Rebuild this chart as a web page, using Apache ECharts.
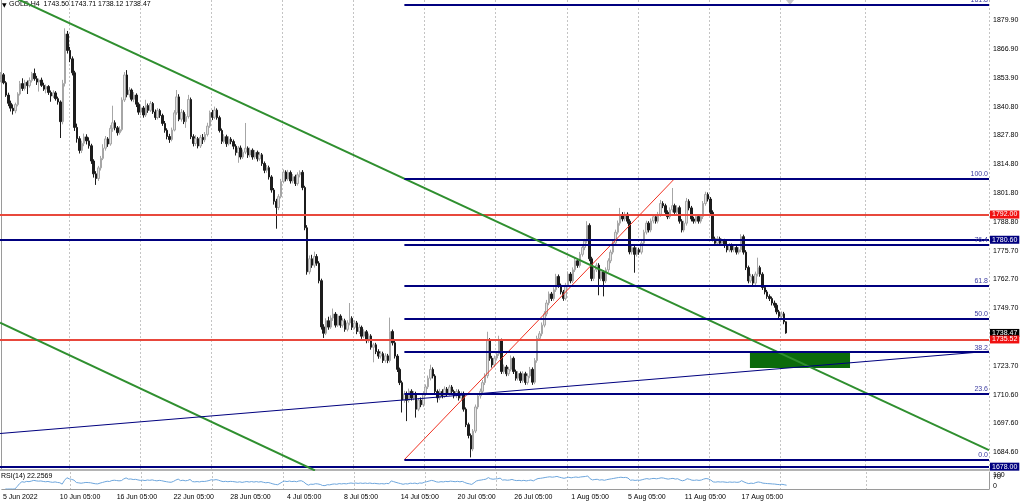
<!DOCTYPE html>
<html>
<head>
<meta charset="utf-8">
<script src="https://cdn.jsdelivr.net/npm/echarts@6/dist/echarts.min.js"></script>
<style>
  html, body { margin: 0; padding: 0; background: #fff; }
  #chart { width: 1024px; height: 501px; }
</style>
</head>
<body>
<div id="chart"></div>
<script>
// GOLD H4 candles, [open, close, low, high]
const candles = [
  [1853.0,1855.2,1851.8,1856.4],[1855.2,1851.6,1850.9,1856.0],[1851.6,1846.0,1845.2,1852.3],[1846.0,1842.3,1841.0,1847.1],
  [1842.3,1840.1,1838.6,1843.5],[1840.1,1838.9,1837.2,1841.8],[1838.9,1841.7,1837.8,1842.6],[1841.7,1846.5,1840.9,1847.3],
  [1846.5,1851.2,1845.8,1852.4],[1851.2,1849.0,1847.9,1853.6],[1849.0,1851.8,1848.1,1852.9],[1851.8,1850.3,1846.5,1852.6],
  [1850.3,1852.6,1849.4,1854.0],[1852.6,1855.8,1851.7,1856.5],[1855.8,1853.4,1852.5,1858.0],[1853.4,1851.9,1850.6,1854.7],
  [1851.9,1852.8,1847.6,1853.5],[1852.8,1850.4,1849.7,1853.9],[1850.4,1848.7,1847.9,1851.6],[1848.7,1849.9,1846.8,1850.8],
  [1849.9,1847.2,1846.1,1850.5],[1847.2,1845.6,1843.0,1848.1],[1845.6,1847.0,1844.7,1848.2],[1847.0,1844.4,1843.5,1847.8],
  [1844.4,1842.9,1841.7,1845.3],[1842.9,1834.0,1826.6,1843.6],[1834.0,1851.3,1832.8,1852.9],[1851.3,1873.6,1849.9,1876.2],
  [1873.6,1866.2,1864.8,1875.0],[1866.2,1862.4,1860.9,1867.8],[1862.4,1856.1,1854.9,1863.5],[1856.1,1831.4,1829.8,1857.0],
  [1831.4,1826.3,1824.5,1833.1],[1826.3,1821.0,1819.6,1827.4],[1821.0,1824.2,1819.8,1825.4],[1824.2,1827.1,1822.9,1828.6],
  [1827.1,1825.3,1823.7,1828.3],[1825.3,1823.1,1821.8,1826.9],[1823.1,1816.2,1814.9,1824.0],[1816.2,1810.4,1808.7,1817.0],
  [1810.4,1808.3,1805.4,1811.6],[1808.3,1813.1,1807.2,1814.0],[1813.1,1817.4,1811.9,1818.5],[1817.4,1822.0,1816.6,1823.8],
  [1822.0,1826.2,1820.9,1827.5],[1826.2,1823.9,1822.6,1827.0],[1823.9,1831.0,1823.1,1832.4],[1831.0,1833.5,1829.4,1841.2],
  [1833.5,1831.2,1830.1,1834.6],[1831.2,1829.0,1827.7,1832.0],[1829.0,1830.4,1828.1,1831.9],[1830.4,1843.8,1829.6,1845.0],
  [1843.8,1855.1,1842.9,1856.4],[1855.1,1846.2,1845.0,1857.3],[1846.2,1848.3,1844.9,1849.6],[1848.3,1844.1,1843.2,1849.0],
  [1844.1,1846.0,1842.8,1847.4],[1846.0,1841.9,1840.6,1846.8],[1841.9,1838.3,1837.1,1842.7],[1838.3,1840.2,1836.9,1841.5],
  [1840.2,1837.0,1835.8,1841.1],[1837.0,1841.3,1836.1,1843.9],[1841.3,1839.1,1838.0,1842.2],[1839.1,1842.2,1838.4,1843.3],
  [1842.2,1838.4,1837.5,1842.9],[1838.4,1835.9,1834.8,1839.5],[1835.9,1839.0,1835.0,1840.1],[1839.0,1836.8,1835.7,1839.8],
  [1836.8,1833.2,1832.1,1837.6],[1833.2,1830.1,1829.0,1834.3],[1830.1,1827.3,1826.0,1831.0],[1827.3,1825.9,1824.4,1828.5],
  [1825.9,1830.2,1825.1,1831.3],[1830.2,1838.0,1829.6,1839.2],[1838.0,1845.2,1837.1,1848.3],[1845.2,1835.1,1834.2,1846.4],
  [1835.1,1838.2,1834.0,1839.7],[1838.2,1834.0,1832.9,1839.1],[1834.0,1836.3,1831.2,1837.5],[1836.3,1844.0,1835.4,1846.1],
  [1844.0,1827.2,1826.1,1844.9],[1827.2,1824.1,1822.8,1828.3],[1824.1,1826.3,1823.0,1827.9],[1826.3,1823.0,1821.9,1827.1],
  [1823.0,1826.9,1822.1,1828.0],[1826.9,1825.8,1823.9,1828.4],[1825.8,1828.2,1824.7,1829.3],[1828.2,1832.0,1827.3,1833.5],
  [1832.0,1838.1,1831.2,1839.0],[1838.1,1836.0,1834.7,1839.3],[1836.0,1839.2,1835.1,1840.8],[1839.2,1835.8,1834.9,1840.0],
  [1835.8,1830.0,1829.1,1836.7],[1830.0,1825.1,1823.9,1830.9],[1825.1,1827.2,1824.2,1828.3],[1827.2,1824.0,1822.6,1828.1],
  [1824.0,1826.1,1823.2,1827.4],[1826.1,1825.0,1823.8,1827.0],[1825.0,1822.9,1821.5,1825.9],[1822.9,1820.0,1818.7,1823.8],
  [1820.0,1822.1,1815.4,1823.0],[1822.1,1818.0,1816.9,1823.2],[1818.0,1820.2,1817.1,1821.4],[1820.2,1822.0,1819.3,1833.4],
  [1822.0,1818.9,1817.6,1822.8],[1818.9,1821.1,1817.9,1822.3],[1821.1,1818.0,1816.8,1821.9],[1818.0,1820.1,1817.0,1821.2],
  [1820.1,1817.2,1816.0,1820.9],[1817.2,1819.0,1816.3,1820.3],[1819.0,1815.1,1814.0,1819.8],[1815.1,1812.0,1810.7,1816.0],
  [1812.0,1813.2,1810.9,1814.4],[1813.2,1809.0,1807.8,1814.1],[1809.0,1803.1,1801.9,1809.8],[1803.1,1798.0,1796.5,1804.0],
  [1798.0,1795.2,1785.6,1799.1],[1795.2,1800.1,1794.0,1801.2],[1800.1,1807.0,1799.3,1808.1],[1807.0,1811.2,1806.1,1812.4],
  [1811.2,1808.1,1807.0,1812.0],[1808.1,1811.0,1807.2,1812.2],[1811.0,1807.2,1806.0,1811.9],[1807.2,1809.1,1806.1,1810.3],
  [1809.1,1806.0,1804.9,1810.0],[1806.0,1810.0,1805.1,1811.1],[1810.0,1811.1,1808.8,1812.0],[1811.1,1804.2,1803.0,1812.1],
  [1804.2,1786.0,1784.9,1805.0],[1786.0,1766.1,1764.8,1787.2],[1766.1,1772.0,1765.0,1773.5],[1772.0,1769.1,1767.9,1773.8],
  [1769.1,1773.0,1768.0,1775.2],[1773.0,1770.0,1768.8,1774.1],[1770.0,1762.1,1760.9,1770.9],[1762.1,1741.2,1740.0,1763.0],
  [1741.2,1738.3,1736.2,1742.4],[1738.3,1744.0,1737.5,1745.1],[1744.0,1741.1,1739.9,1745.8],[1741.1,1745.2,1740.3,1746.4],
  [1745.2,1747.0,1743.9,1749.5],[1747.0,1742.0,1740.9,1747.9],[1742.0,1746.1,1741.2,1747.0],[1746.1,1742.0,1740.8,1746.9],
  [1742.0,1744.0,1740.9,1745.1],[1744.0,1740.1,1739.0,1744.9],[1740.1,1743.0,1739.2,1744.2],[1743.0,1745.1,1741.9,1752.0],
  [1745.1,1741.0,1739.8,1746.0],[1741.0,1743.0,1740.1,1744.2],[1743.0,1739.1,1737.9,1743.9],[1739.1,1741.0,1738.0,1742.3],
  [1741.0,1737.0,1735.8,1741.8],[1737.0,1739.0,1736.1,1740.1],[1739.0,1735.0,1733.8,1739.8],[1735.0,1737.1,1734.0,1738.2],
  [1737.1,1732.0,1730.9,1737.9],[1732.0,1733.1,1725.2,1734.0],[1733.1,1730.0,1728.9,1734.0],[1730.0,1728.0,1726.8,1731.1],
  [1728.0,1729.1,1726.9,1730.2],[1729.1,1726.0,1724.9,1730.0],[1726.0,1728.1,1725.0,1729.3],[1728.1,1726.0,1724.8,1729.0],
  [1726.0,1739.1,1725.1,1745.4],[1739.1,1734.0,1732.8,1740.0],[1734.0,1728.0,1726.9,1735.1],[1728.0,1722.0,1720.8,1728.9],
  [1722.0,1716.0,1714.9,1722.8],[1716.0,1708.1,1702.5,1716.9],[1708.1,1711.0,1706.9,1712.3],[1711.0,1708.0,1698.6,1712.0],
  [1708.0,1712.1,1707.0,1713.3],[1712.1,1709.0,1707.9,1713.0],[1709.0,1711.0,1708.0,1712.2],[1711.0,1704.0,1700.2,1711.9],
  [1704.0,1708.1,1703.1,1709.0],[1708.1,1706.0,1704.9,1709.3],[1706.0,1711.0,1705.1,1712.1],[1711.0,1714.1,1710.0,1715.2],
  [1714.1,1718.0,1713.1,1719.2],[1718.0,1722.0,1717.0,1724.1],[1722.0,1719.0,1717.9,1722.9],[1719.0,1712.0,1710.9,1719.8],
  [1712.0,1709.1,1707.0,1712.9],[1709.1,1712.0,1708.1,1713.2],[1712.0,1710.0,1708.9,1713.0],[1710.0,1713.1,1709.1,1714.3],
  [1713.1,1711.0,1709.9,1714.0],[1711.0,1714.0,1710.1,1715.0],[1714.0,1712.0,1710.8,1714.9],[1712.0,1710.1,1708.9,1712.8],
  [1710.1,1712.0,1709.0,1713.1],[1712.0,1709.0,1707.9,1712.9],[1709.0,1711.1,1708.1,1712.0],[1711.1,1704.0,1702.9,1712.0],
  [1704.0,1697.0,1695.9,1704.8],[1697.0,1692.1,1690.8,1697.9],[1692.1,1686.0,1682.2,1693.0],[1686.0,1694.1,1685.0,1695.0],
  [1694.1,1705.0,1693.2,1706.1],[1705.0,1710.0,1704.0,1711.1],[1710.0,1712.1,1708.8,1713.3],[1712.1,1716.0,1711.0,1717.2],
  [1716.0,1719.1,1714.9,1720.2],[1719.1,1735.0,1718.0,1739.0],[1735.0,1727.0,1725.9,1736.1],[1727.0,1724.0,1722.8,1728.1],
  [1724.0,1727.1,1723.0,1728.2],[1727.1,1729.0,1726.0,1730.1],[1729.0,1735.0,1728.1,1737.2],[1735.0,1721.0,1719.9,1735.9],
  [1721.0,1723.1,1720.0,1724.2],[1723.1,1720.0,1718.9,1724.0],[1720.0,1722.0,1719.0,1723.1],[1722.0,1727.0,1721.1,1728.3],
  [1727.0,1721.0,1719.9,1727.8],[1721.0,1718.0,1716.9,1721.9],[1718.0,1720.1,1717.0,1721.2],[1720.1,1717.0,1715.8,1721.0],
  [1717.0,1720.0,1716.0,1721.1],[1720.0,1716.1,1715.0,1720.9],[1716.1,1719.0,1715.1,1720.2],[1719.0,1722.0,1718.0,1723.1],
  [1722.0,1716.2,1715.0,1722.9],[1716.2,1726.0,1715.3,1727.1],[1726.0,1736.0,1725.0,1737.2],[1736.0,1738.1,1734.9,1739.3],
  [1738.1,1742.0,1737.0,1743.2],[1742.0,1747.1,1741.0,1748.3],[1747.1,1752.0,1746.0,1753.4],[1752.0,1756.1,1751.0,1757.2],
  [1756.1,1754.0,1752.9,1757.0],[1754.0,1758.0,1753.0,1759.1],[1758.0,1764.0,1757.0,1765.2],[1764.0,1760.0,1758.9,1764.9],
  [1760.0,1757.0,1755.9,1760.8],[1757.0,1754.1,1753.0,1757.9],[1754.1,1760.0,1753.2,1761.1],[1760.0,1765.1,1759.0,1766.3],
  [1765.1,1762.0,1760.9,1766.0],[1762.0,1767.0,1761.0,1768.1],[1767.0,1771.1,1766.0,1772.3],[1771.1,1769.0,1767.9,1772.0],
  [1769.0,1774.0,1768.0,1775.1],[1774.0,1777.1,1773.0,1778.2],[1777.1,1780.0,1775.9,1781.0],[1780.0,1787.1,1779.0,1789.0],
  [1787.1,1772.0,1770.9,1788.0],[1772.0,1763.1,1761.9,1772.9],[1763.1,1767.0,1762.0,1768.2],[1767.0,1769.1,1766.0,1770.2],
  [1769.1,1763.0,1755.5,1770.0],[1763.0,1766.1,1762.0,1767.2],[1766.1,1762.0,1755.0,1766.9],[1762.0,1767.0,1761.0,1768.1],
  [1767.0,1771.1,1766.0,1772.2],[1771.1,1775.0,1770.0,1776.1],[1775.0,1779.1,1774.0,1780.2],[1779.1,1784.0,1778.0,1785.2],
  [1784.0,1788.1,1783.0,1789.3],[1788.1,1792.0,1787.0,1795.0],[1792.0,1790.0,1788.9,1793.1],[1790.0,1792.1,1789.0,1793.2],
  [1792.1,1789.0,1787.9,1793.0],[1789.0,1775.1,1774.0,1789.9],[1775.1,1777.0,1773.9,1778.2],[1777.0,1774.0,1765.7,1777.9],
  [1774.0,1776.1,1773.0,1777.2],[1776.1,1775.0,1773.8,1777.0],[1775.0,1779.1,1774.0,1780.2],[1779.1,1784.0,1778.0,1785.1],
  [1784.0,1788.1,1783.0,1789.2],[1788.1,1785.0,1783.9,1789.0],[1785.0,1789.1,1784.0,1790.2],[1789.1,1791.0,1788.0,1792.1],
  [1791.0,1789.0,1787.9,1791.9],[1789.0,1792.1,1788.0,1793.2],[1792.1,1797.0,1791.0,1798.6],[1797.0,1796.0,1794.9,1798.0],
  [1796.0,1793.0,1791.9,1796.9],[1793.0,1791.0,1789.9,1793.9],[1791.0,1794.1,1790.0,1795.2],[1794.1,1796.0,1793.0,1804.0],
  [1796.0,1793.0,1791.9,1796.9],[1793.0,1795.1,1792.0,1796.2],[1795.1,1789.0,1787.9,1796.0],[1789.0,1785.0,1783.9,1789.9],
  [1785.0,1788.1,1784.0,1789.2],[1788.1,1798.0,1787.0,1799.5],[1798.0,1795.0,1793.9,1798.9],[1795.0,1790.0,1788.9,1795.9],
  [1790.0,1789.0,1787.9,1791.0],[1789.0,1791.1,1788.0,1792.2],[1791.1,1789.0,1787.9,1792.0],[1789.0,1791.1,1788.0,1792.2],
  [1791.1,1797.0,1790.0,1798.1],[1797.0,1801.1,1796.0,1802.3],[1801.1,1799.0,1797.9,1802.0],[1799.0,1793.0,1791.9,1799.9],
  [1793.0,1781.0,1779.9,1793.9],[1781.0,1779.0,1777.9,1782.0],[1779.0,1781.1,1778.0,1782.2],[1781.1,1779.0,1777.9,1782.0],
  [1779.0,1780.1,1778.0,1781.2],[1780.1,1778.0,1776.9,1781.0],[1778.0,1776.0,1774.9,1780.5],[1776.0,1778.0,1775.0,1779.1],
  [1778.0,1776.0,1774.9,1778.9],[1776.0,1777.1,1775.0,1778.2],[1777.1,1775.0,1773.9,1778.0],[1775.0,1776.1,1774.0,1777.2],
  [1776.1,1782.0,1775.0,1783.1],[1782.0,1775.0,1773.9,1782.9],[1775.0,1768.0,1766.9,1775.9],[1768.0,1762.0,1760.9,1768.9],
  [1762.0,1764.1,1761.0,1765.2],[1764.1,1761.0,1759.9,1765.0],[1761.0,1765.1,1760.0,1766.2],[1765.1,1768.0,1764.0,1772.5],
  [1768.0,1765.0,1763.9,1768.9],[1765.0,1759.0,1757.9,1765.9],[1759.0,1757.0,1755.9,1759.9],[1757.0,1755.0,1753.9,1757.9],
  [1755.0,1754.0,1752.9,1755.9],[1754.0,1752.0,1750.9,1754.9],[1752.0,1751.0,1749.9,1753.1],[1751.0,1748.0,1746.9,1751.9],
  [1748.0,1746.0,1744.9,1748.9],[1746.0,1747.1,1745.0,1748.2],[1747.1,1743.5,1742.4,1748.0],[1743.50,1738.47,1738.12,1743.71]
];

const symbol = 'GOLD,H4';
const slotCount = 417;            // bar slots across the chart, incl. the empty shift area
const timeLabels = ['5 Jun 2022', '10 Jun 05:00', '16 Jun 05:00', '22 Jun 05:00', '28 Jun 05:00', '4 Jul 05:00',
  '8 Jul 05:00', '14 Jul 05:00', '20 Jul 05:00', '26 Jul 05:00', '1 Aug 05:00', '5 Aug 05:00', '11 Aug 05:00', '17 Aug 05:00'];
const labelBars = [0, 24, 48, 72, 96, 120, 144, 168, 192, 216, 240, 264, 288, 312];
const separatorBars = [29, 59, 89, 119, 149, 179, 209, 239, 269, 299, 329, 365];
const priceTicks = [1879.90, 1866.90, 1853.90, 1840.80, 1827.80, 1814.80, 1801.80, 1788.80, 1775.70,
  1762.70, 1749.70, 1736.70, 1723.70, 1710.60, 1697.60, 1684.60];
const rsiLevelTicks = [30, 70];
const rsiEndTicks = [0, 100];
const rsiShown = 22.2569;

// horizontal price lines with their axis tags
const redLevels = [1792.00, 1735.52];
const blueLevels = [1780.60, 1678.00];
const bidPrice = 1738.47;

// fibonacci retracement: anchored bar range and price range
const fibLevels = [0, 23.6, 38.2, 50, 61.8, 76.4, 100, 161.8];
const fibFromBar = 170, fibToBar = 284;
const fibLow = 1681.2, fibHigh = 1808.3;

// trend lines as [bar, price] pairs
const greenLines = [
  [[-0.5, 1893.1], [416.5, 1685.5]],
  [[-0.5, 1743.1], [132.3, 1676.3]]
];
const blueTrend = [[-0.5, 1693.0], [416.5, 1730.2]];
const zoneBox = [[315.7, 1730.0], [357.9, 1722.6]];

const FONT = 'Liberation Sans';
const NAVY = '#00007f';
const RED = '#e8483c';
const GREEN = '#2f8f2f';

// RSI(14) from the closes
function calcRsi (closes, n) {
  const out = [];
  let ag = 0, al = 0;
  out.push('-');
  for (let i = 1; i < closes.length; i++) {
    const d = closes[i] - closes[i - 1];
    const g = d > 0 ? d : 0;
    const l = d < 0 ? -d : 0;
    if (i <= n) {
      ag = (ag * (i - 1) + g) / i;
      al = (al * (i - 1) + l) / i;
    } else {
      ag = (ag * (n - 1) + g) / n;
      al = (al * (n - 1) + l) / n;
    }
    out.push(al === 0 ? 100 : 100 - 100 / (1 + ag / al));
  }
  return out;
}

const slots = [];
for (let i = 0; i < slotCount; i++) slots.push(String(i));
const closes = candles.map(c => c[1]);
const rsi = calcRsi(closes, 14);
const last = candles[candles.length - 1];

const chart = echarts.init(document.getElementById('chart'));

const tagLabel = (bg) => ({
  show: true,
  position: 'end',
  distance: 1,
  formatter: p => Number(p.value).toFixed(2),
  color: '#fff',
  backgroundColor: bg,
  fontSize: 7,
  lineHeight: 8,
  fontFamily: FONT,
  padding: [0, 2, 0, 2]
});

const hLines = [];
hLines.push({ yAxis: bidPrice, lineStyle: { color: 'rgba(0,0,0,0)', width: 1 }, label: tagLabel('#000') });
redLevels.forEach(v => hLines.push({ yAxis: v, lineStyle: { color: RED, width: 2, type: 'solid' }, label: tagLabel('#f01010') }));
blueLevels.forEach(v => hLines.push({ yAxis: v, lineStyle: { color: NAVY, width: 2, type: 'solid' }, label: tagLabel(NAVY) }));

const fibLines = fibLevels.map(lv => {
  const p = fibLow + (fibHigh - fibLow) * lv / 100;
  return [
    { coord: [fibFromBar, p], label: { show: true, position: 'insideEndTop', formatter: lv.toFixed(1),
      color: '#3a3aa0', fontSize: 7, fontFamily: FONT, distance: [1, 1] } },
    { coord: [slotCount - 0.5, p] }
  ];
});

const lineSeries = (pts, color, width, z) => ({
  type: 'line',
  xAxisIndex: 2,
  yAxisIndex: 0,
  data: pts,
  symbol: 'none',
  silent: true,
  z: z,
  lineStyle: { color: color, width: width }
});

const sepLine = { show: true, interval: (i) => separatorBars.includes(i), lineStyle: { color: '#c4c4c4', type: [2, 2], width: 1 } };

const option = {
  animation: false,
  textStyle: { fontFamily: FONT },
  grid: [
    { left: 0, right: 35, top: 0, height: 470 },
    { left: 0, right: 35, top: 472, height: 17 }
  ],
  xAxis: [
    {
      type: 'category', gridIndex: 0, data: slots, boundaryGap: true,
      axisLine: { show: true, lineStyle: { color: '#b4b4b4', width: 2 } },
      axisTick: { show: false }, axisLabel: { show: false },
      splitLine: sepLine
    },
    {
      type: 'category', gridIndex: 1, data: slots, boundaryGap: true,
      axisLine: { show: true, lineStyle: { color: '#9a9a9a', width: 1 } },
      axisTick: { show: false },
      axisLabel: {
        show: true, interval: (i) => labelBars.includes(i), align: 'left', margin: 5,
        fontSize: 7, color: '#000', fontFamily: FONT,
        formatter: (v) => timeLabels[labelBars.indexOf(Number(v))] || ''
      },
      splitLine: sepLine
    },
    { type: 'value', gridIndex: 0, min: -0.5, max: slotCount - 0.5, show: false }
  ],
  yAxis: [
    {
      type: 'value', gridIndex: 0, position: 'right', min: 1676.5, max: 1889.0, scale: true,
      axisLine: { show: true, lineStyle: { color: '#9a9a9a' } },
      axisTick: { show: false },
      axisLabel: { show: true, customValues: priceTicks, formatter: v => v.toFixed(2), fontSize: 7, color: '#000', margin: 4, fontFamily: FONT },
      splitLine: { show: false }
    },
    {
      type: 'value', gridIndex: 1, position: 'right', min: 0, max: 100,
      axisLine: { show: true, lineStyle: { color: '#9a9a9a' } },
      axisTick: { show: false },
      axisLabel: { show: true, customValues: rsiLevelTicks, fontSize: 7, color: '#000', margin: 4, fontFamily: FONT },
      splitLine: { show: false }
    },
    {
      type: 'value', gridIndex: 1, position: 'right', min: 0, max: 100,
      axisLine: { show: false }, axisTick: { show: false }, splitLine: { show: false },
      axisLabel: {
        show: true, customValues: rsiEndTicks, showMinLabel: true, showMaxLabel: true,
        fontSize: 7, color: '#000', margin: 4, fontFamily: FONT,
        formatter: v => (v >= 100 ? '{dn|' : '{up|') + v + '}',
        rich: { dn: { fontSize: 7, padding: [6, 0, 0, 0] }, up: { fontSize: 7, padding: [0, 0, 6, 0] } }
      }
    }
  ],
  series: [
    {
      type: 'candlestick',
      xAxisIndex: 0, yAxisIndex: 0,
      data: candles,
      barWidth: 2,
      z: 2,
      itemStyle: {
        color: '#e4e4e4', borderColor: '#a6a6a6',
        color0: '#1c1c1c', borderColor0: '#1c1c1c',
        borderWidth: 1
      },
      markLine: { symbol: 'none', silent: true, data: hLines, z: 4 }
    },
    {
      type: 'line', xAxisIndex: 2, yAxisIndex: 0, data: [], silent: true, z: 1,
      markArea: { silent: true, itemStyle: { color: '#0b6b0b', opacity: 1 },
        data: [[{ coord: zoneBox[0] }, { coord: zoneBox[1] }]] }
    },
    {
      type: 'line', xAxisIndex: 2, yAxisIndex: 0, data: [], silent: true, z: 3,
      markLine: { symbol: 'none', silent: true, lineStyle: { color: NAVY, width: 2, type: 'solid' }, data: fibLines }
    },
    lineSeries([[fibFromBar, fibLow], [fibToBar, fibHigh]], '#f03020', 1, 4),
    lineSeries(greenLines[0], GREEN, 2, 4),
    lineSeries(greenLines[1], GREEN, 2, 4),
    lineSeries(blueTrend, NAVY, 1.2, 4),
    {
      type: 'line', xAxisIndex: 1, yAxisIndex: 1, data: rsi, symbol: 'none', silent: true,
      lineStyle: { color: '#6ea6dc', width: 1 }
    }
  ],
  graphic: [
    { type: 'text', left: 2, top: 2, style: { text: '▼', fontSize: 6, fill: '#000', fontFamily: 'DejaVu Sans' } },
    { type: 'text', left: 9, top: 1, style: {
      text: symbol + '  ' + last[0].toFixed(2) + ' ' + last[3].toFixed(2) + ' ' + last[2].toFixed(2) + ' ' + last[1].toFixed(2),
      fontSize: 7, fill: '#000', fontFamily: FONT } },
    { type: 'text', left: 1, top: 473, style: { text: 'RSI(14) ' + rsiShown.toFixed(4), fontSize: 7, fill: '#000', fontFamily: FONT } },
    { type: 'polygon', shape: { points: [[786, 0], [794, 0], [790, 5]] }, style: { fill: '#c8c8c8' } }
  ]
};

chart.setOption(option);
</script>
</body>
</html>
